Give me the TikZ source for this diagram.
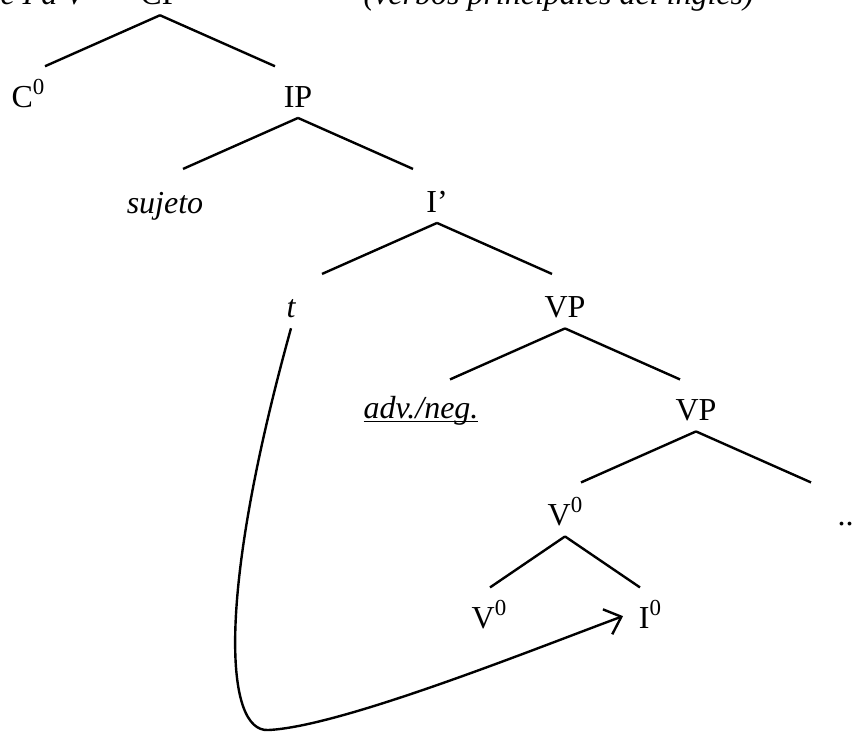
\documentclass[tikz,border=0pt]{standalone}
\usepackage{fontspec}
\setmainfont{Liberation Serif}
\usetikzlibrary{arrows.meta, calc}
\newcommand{\supz}{\raisebox{4.6pt}{\fontsize{8.6}{9}\selectfont 0}}
\tikzset{
  syn/.style={anchor=base, inner sep=3.9pt, font=\fontsize{12}{14}\selectfont},
  synit/.style={syn, font=\fontsize{12}{14}\selectfont\itshape},
  branch/.style={draw=black, line width=0.9pt},
  mov/.style={draw=black, line width=0.9pt, -{Straight Barb[length=5.5pt,width=10pt]}, shorten >=2pt},
}

\begin{document}
\begin{tikzpicture}[x=0.375pt, y=-0.375pt]
\useasboundingbox (0,0) rectangle (854,733);
\node[synit, anchor=base west, inner sep=0pt] (ttl) at (0,4) {e I a V};
\node[syn] (cp) at (160,4) {CP};
\node[synit, anchor=base west, inner sep=0pt] (gloss) at (363,4) {(verbos principales del inglés)};
\node[syn] (c0) at (28,107) {C\supz};
\node[syn] (ip) at (298,107) {IP};
\node[synit] (suj) at (165,213) {sujeto};
\node[syn] (ib) at (437,212) {I’};
\node[synit] (t) at (291,317) {t};
\node[syn] (vpa) at (565,317) {VP};
\node[synit] (adv) at (421,418) {\underbar{adv./neg.}};
\node[syn] (vpb) at (696,420) {VP};
\node[syn] (va) at (565,525) {V\supz};
\node[syn, anchor=base west, inner sep=0pt] (dots) at (837,525) {..};
\node[syn] (vb) at (489,628) {V\supz};
\node[syn] (i0) at (650,628) {I\supz};

\foreach \n/\w in {cp/115, ip/115, ib/115, vpa/115, vpb/115, va/75}{
  \draw[branch] (\n.south) -- ++(-\w,51) coordinate (\n-l);
  \draw[branch] (\n.south) -- ++(\w,51) coordinate (\n-r);
}
\coordinate (low) at (268,730);
\draw[mov] (t.south) .. controls +(-76,274) and +(-42,2) .. (low) .. controls +(72,-3) and +(-97,36) .. (i0.west);
\end{tikzpicture}
\end{document}
